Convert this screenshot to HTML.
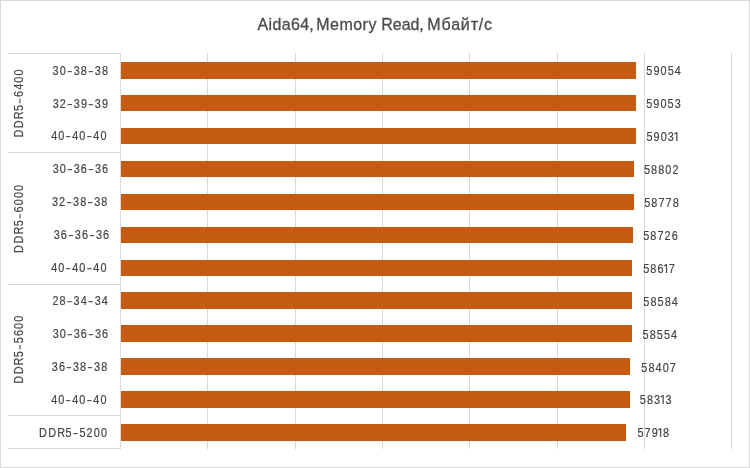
<!DOCTYPE html>
<html><head><meta charset="utf-8"><style>
html,body{margin:0;padding:0;background:#fff;width:750px;height:468px;overflow:hidden}
svg{display:block;will-change:transform}
text{font-family:"Liberation Sans",sans-serif}
</style></head><body>
<svg width="750" height="468" viewBox="0 0 750 468">
<g shape-rendering="crispEdges" fill="#D9D9D9">
<rect x="0" y="0" width="750" height="1"/><rect x="0" y="467" width="750" height="1"/><rect x="0" y="0" width="1" height="468"/><rect x="749" y="0" width="1" height="468"/>
<rect x="207" y="53" width="1" height="396"/>
<rect x="295" y="53" width="1" height="396"/>
<rect x="382" y="53" width="1" height="396"/>
<rect x="469" y="53" width="1" height="396"/>
<rect x="557" y="53" width="1" height="396"/>
<rect x="644" y="53" width="1" height="396"/>
<rect x="731" y="53" width="1" height="396"/>
<rect x="120" y="53" width="1" height="396"/>
<rect x="8" y="53" width="112" height="1"/>
<rect x="8" y="152" width="112" height="1"/>
<rect x="8" y="284" width="112" height="1"/>
<rect x="8" y="415" width="112" height="1"/>
<rect x="8" y="448" width="112" height="1"/>
</g>
<g shape-rendering="crispEdges" fill="#C55A11">
<rect x="121" y="62.00" width="515" height="17"/>
<rect x="121" y="95.00" width="515" height="16"/>
<rect x="121" y="128.00" width="515" height="16"/>
<rect x="121" y="161.00" width="513" height="16"/>
<rect x="121" y="194.00" width="513" height="16"/>
<rect x="121" y="227.00" width="512" height="16"/>
<rect x="121" y="260.00" width="511" height="16"/>
<rect x="121" y="292.00" width="511" height="17"/>
<rect x="121" y="325.00" width="511" height="17"/>
<rect x="121" y="358.00" width="509" height="17"/>
<rect x="121" y="391.00" width="509" height="17"/>
<rect x="121" y="424.00" width="505" height="17"/>
</g>
<g transform="translate(649.33,75.00)" fill="#454545"><text transform="scale(0.87,1)" x="-3.46 4.72 12.92 21.12 29.34" y="0" font-size="12.5" stroke="#454545" stroke-width="0.2">59054</text></g>
<g transform="translate(55.59,75.00)" fill="#454545"><text transform="scale(0.87,1)" x="-3.44 4.74 20.82 29.00 45.07 53.25" y="0" font-size="12.5" stroke="#454545" stroke-width="0.2">303838</text><rect x="11.93" y="-3.90" width="4.4" height="1.1"/><rect x="33.02" y="-3.90" width="4.4" height="1.1"/></g>
<g transform="translate(649.25,108.00)" fill="#454545"><text transform="scale(0.87,1)" x="-3.46 4.72 12.92 21.12 29.34" y="0" font-size="12.5" stroke="#454545" stroke-width="0.2">59053</text></g>
<g transform="translate(55.67,108.00)" fill="#454545"><text transform="scale(0.87,1)" x="-3.44 4.74 20.82 29.00 45.07 53.25" y="0" font-size="12.5" stroke="#454545" stroke-width="0.2">323939</text><rect x="11.93" y="-3.90" width="4.4" height="1.1"/><rect x="33.02" y="-3.90" width="4.4" height="1.1"/></g>
<g transform="translate(649.44,141.00)" fill="#454545"><text transform="scale(0.87,1)" x="-3.46 4.72 12.92 21.15" y="0" font-size="12.5" stroke="#454545" stroke-width="0.2">5903</text><rect x="26.80" y="-8.8" width="1.2" height="8.8"/><path d="M27.30 -8.5L25.01 -7.0" stroke="#454545" stroke-width="1.1" fill="none"/></g>
<g transform="translate(54.13,140.00)" fill="#454545"><text transform="scale(0.87,1)" x="-3.44 4.74 20.82 29.00 45.07 53.25" y="0" font-size="12.5" stroke="#454545" stroke-width="0.2">404040</text><rect x="11.93" y="-3.90" width="4.4" height="1.1"/><rect x="33.02" y="-3.90" width="4.4" height="1.1"/></g>
<g transform="translate(646.96,174.00)" fill="#454545"><text transform="scale(0.87,1)" x="-3.46 4.72 12.92 21.11 29.31" y="0" font-size="12.5" stroke="#454545" stroke-width="0.2">58802</text></g>
<g transform="translate(55.68,173.00)" fill="#454545"><text transform="scale(0.87,1)" x="-3.44 4.74 20.82 28.95 45.07 53.21" y="0" font-size="12.5" stroke="#454545" stroke-width="0.2">303636</text><rect x="11.93" y="-3.90" width="4.4" height="1.1"/><rect x="33.02" y="-3.90" width="4.4" height="1.1"/></g>
<g transform="translate(647.21,207.00)" fill="#454545"><text transform="scale(0.87,1)" x="-3.46 4.72 12.91 21.10 29.31" y="0" font-size="12.5" stroke="#454545" stroke-width="0.2">58778</text></g>
<g transform="translate(55.00,206.00)" fill="#454545"><text transform="scale(0.87,1)" x="-3.44 4.74 20.82 29.00 45.07 53.25" y="0" font-size="12.5" stroke="#454545" stroke-width="0.2">323838</text><rect x="11.93" y="-3.90" width="4.4" height="1.1"/><rect x="33.02" y="-3.90" width="4.4" height="1.1"/></g>
<g transform="translate(646.24,240.00)" fill="#454545"><text transform="scale(0.87,1)" x="-3.46 4.72 12.91 21.11 29.26" y="0" font-size="12.5" stroke="#454545" stroke-width="0.2">58726</text></g>
<g transform="translate(56.74,239.00)" fill="#454545"><text transform="scale(0.87,1)" x="-3.44 4.70 20.82 28.95 45.07 53.21" y="0" font-size="12.5" stroke="#454545" stroke-width="0.2">363636</text><rect x="11.93" y="-3.90" width="4.4" height="1.1"/><rect x="33.02" y="-3.90" width="4.4" height="1.1"/></g>
<g transform="translate(646.22,273.00)" fill="#454545"><text transform="scale(0.87,1)" x="-3.46 4.72 12.87 25.93" y="0" font-size="12.5" stroke="#454545" stroke-width="0.2">5867</text><rect x="19.68" y="-8.8" width="1.2" height="8.8"/><path d="M20.18 -8.5L17.88 -7.0" stroke="#454545" stroke-width="1.1" fill="none"/></g>
<g transform="translate(54.13,272.00)" fill="#454545"><text transform="scale(0.87,1)" x="-3.44 4.74 20.82 29.00 45.07 53.25" y="0" font-size="12.5" stroke="#454545" stroke-width="0.2">404040</text><rect x="11.93" y="-3.90" width="4.4" height="1.1"/><rect x="33.02" y="-3.90" width="4.4" height="1.1"/></g>
<g transform="translate(646.36,306.00)" fill="#454545"><text transform="scale(0.87,1)" x="-3.46 4.72 12.93 21.11 29.34" y="0" font-size="12.5" stroke="#454545" stroke-width="0.2">58584</text></g>
<g transform="translate(55.44,305.00)" fill="#454545"><text transform="scale(0.87,1)" x="-3.48 4.74 20.82 29.03 45.07 53.29" y="0" font-size="12.5" stroke="#454545" stroke-width="0.2">283434</text><rect x="11.93" y="-3.90" width="4.4" height="1.1"/><rect x="33.02" y="-3.90" width="4.4" height="1.1"/></g>
<g transform="translate(645.60,339.00)" fill="#454545"><text transform="scale(0.87,1)" x="-3.46 4.72 12.93 21.12 29.34" y="0" font-size="12.5" stroke="#454545" stroke-width="0.2">58554</text></g>
<g transform="translate(55.68,338.00)" fill="#454545"><text transform="scale(0.87,1)" x="-3.44 4.74 20.82 28.95 45.07 53.21" y="0" font-size="12.5" stroke="#454545" stroke-width="0.2">303636</text><rect x="11.93" y="-3.90" width="4.4" height="1.1"/><rect x="33.02" y="-3.90" width="4.4" height="1.1"/></g>
<g transform="translate(644.37,372.00)" fill="#454545"><text transform="scale(0.87,1)" x="-3.46 4.72 12.95 21.11 29.30" y="0" font-size="12.5" stroke="#454545" stroke-width="0.2">58407</text></g>
<g transform="translate(54.81,371.00)" fill="#454545"><text transform="scale(0.87,1)" x="-3.44 4.70 20.82 29.00 45.07 53.25" y="0" font-size="12.5" stroke="#454545" stroke-width="0.2">363838</text><rect x="11.93" y="-3.90" width="4.4" height="1.1"/><rect x="33.02" y="-3.90" width="4.4" height="1.1"/></g>
<g transform="translate(642.87,404.00)" fill="#454545"><text transform="scale(0.87,1)" x="-3.46 4.72 12.95 25.98" y="0" font-size="12.5" stroke="#454545" stroke-width="0.2">5833</text><rect x="19.68" y="-8.8" width="1.2" height="8.8"/><path d="M20.18 -8.5L17.88 -7.0" stroke="#454545" stroke-width="1.1" fill="none"/></g>
<g transform="translate(54.13,404.00)" fill="#454545"><text transform="scale(0.87,1)" x="-3.44 4.74 20.82 29.00 45.07 53.25" y="0" font-size="12.5" stroke="#454545" stroke-width="0.2">404040</text><rect x="11.93" y="-3.90" width="4.4" height="1.1"/><rect x="33.02" y="-3.90" width="4.4" height="1.1"/></g>
<g transform="translate(640.43,437.00)" fill="#454545"><text transform="scale(0.87,1)" x="-3.46 4.71 12.92 25.94" y="0" font-size="12.5" stroke="#454545" stroke-width="0.2">5798</text><rect x="19.68" y="-8.8" width="1.2" height="8.8"/><path d="M20.18 -8.5L17.88 -7.0" stroke="#454545" stroke-width="1.1" fill="none"/></g>
<g transform="translate(42.99,437.00)" fill="#454545"><text transform="scale(0.87,1)" x="-4.72 6.18 16.35 25.89 41.93 50.13 58.35 66.57" y="0" font-size="12.5" stroke="#454545" stroke-width="0.2">DDR55200</text><rect x="30.32" y="-3.90" width="4.4" height="1.1"/></g>
<g transform="translate(23.30,133.50) rotate(-90)" fill="#454545"><text transform="scale(0.87,1)" x="-4.72 6.18 16.35 25.89 41.87 50.17 58.35 66.57" y="0" font-size="12.5" stroke="#454545" stroke-width="0.2">DDR56400</text><rect x="30.32" y="-3.90" width="4.4" height="1.1"/></g>
<g transform="translate(23.30,248.82) rotate(-90)" fill="#454545"><text transform="scale(0.87,1)" x="-4.72 6.18 16.35 25.89 41.87 50.13 58.35 66.57" y="0" font-size="12.5" stroke="#454545" stroke-width="0.2">DDR56000</text><rect x="30.32" y="-3.90" width="4.4" height="1.1"/></g>
<g transform="translate(23.30,379.68) rotate(-90)" fill="#454545"><text transform="scale(0.87,1)" x="-4.72 6.18 16.35 25.89 41.93 50.09 58.35 66.57" y="0" font-size="12.5" stroke="#454545" stroke-width="0.2">DDR55600</text><rect x="30.32" y="-3.90" width="4.4" height="1.1"/></g>
<text transform="translate(257.62,29.80) scale(0.97,1)" font-size="16.5" textLength="57.91" fill="#4d4d4d" stroke="#454545" stroke-width="0.3">Aida64,</text>
<text transform="translate(316.33,29.80) scale(0.97,1)" font-size="16.5" textLength="61.94" fill="#4d4d4d" stroke="#454545" stroke-width="0.3">Memory</text>
<text transform="translate(381.33,29.80) scale(0.97,1)" font-size="16.5" textLength="43.78" fill="#4d4d4d" stroke="#454545" stroke-width="0.3">Read,</text>
<text transform="translate(427.33,29.80) scale(0.97,1)" font-size="16.5" textLength="66.79" fill="#4d4d4d" stroke="#454545" stroke-width="0.3">Мбайт/с</text>
</svg>
</body></html>
